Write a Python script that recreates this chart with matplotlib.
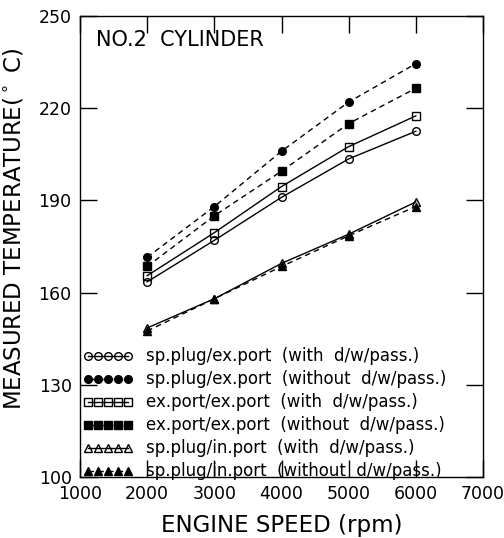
import matplotlib
matplotlib.use("Agg")
import matplotlib.pyplot as plt

speed = [2000, 3000, 4000, 5000, 6000]
sp_ex_with = [163.5, 177, 191, 203.5, 212.5]
sp_ex_without = [171.5, 188, 206, 222, 234.5]
ex_ex_with = [165.5, 179.5, 194.5, 207.5, 217.5]
ex_ex_without = [168.5, 185, 199.5, 215, 226.5]
sp_in_with = [148.5, 158, 169.5, 179, 189.5]
sp_in_without = [147.5, 158, 168.5, 178.5, 188]

labels = [
    "sp.plug/ex.port  (with  d/w/pass.)",
    "sp.plug/ex.port  (without  d/w/pass.)",
    "ex.port/ex.port  (with  d/w/pass.)",
    "ex.port/ex.port  (without  d/w/pass.)",
    "sp.plug/in.port  (with  d/w/pass.)",
    "sp.plug/in.port  (without  d/w/pass.)",
]
xticks = [1000, 2000, 3000, 4000, 5000, 6000, 7000]
yticks = [100, 130, 160, 190, 220, 250]

plt.rcParams['font.family'] = ['DejaVu Sans']
fig = plt.figure(figsize=(5.04, 5.38), dpi=100)
ax = fig.add_axes([80/504, 1-477/538, 403/504, 461/538])

series = [
    (sp_ex_with, 'o', 'none', '-'),
    (sp_ex_without, 'o', 'black', (0, (4, 3))),
    (ex_ex_with, 's', 'none', '-'),
    (ex_ex_without, 's', 'black', (0, (4, 3))),
    (sp_in_with, '^', 'none', '-'),
    (sp_in_without, '^', 'black', (0, (4, 3))),
]
for (vals, m, fc, ls), lab in zip(series, labels):
    ax.plot(speed, vals, color='black', linestyle=ls, linewidth=1.0,
            marker=m, markerfacecolor=fc, markeredgecolor='black',
            markersize=5.5, markeredgewidth=1.0, label=lab)

ax.set_xlim(1000, 7000)
ax.set_ylim(100, 250)
ax.set_xticks(xticks)
ax.set_yticks(yticks)
ax.tick_params(direction='in', length=12, width=1.0, top=True, right=True,
               labelsize=12.5, pad=6)
for s in ax.spines.values():
    s.set_linewidth(1.0)

ax.set_xlabel("ENGINE SPEED (rpm)", fontsize=16.5, labelpad=8)
ax.set_ylabel("MEASURED TEMPERATURE($^\\circ$ C)", fontsize=16.5)
ax.yaxis.set_label_coords(-0.135, 0.538)
ax.text(0.04, 0.97, "NO.2  CYLINDER", transform=ax.transAxes, fontsize=15,
        ha='left', va='top')

leg = ax.legend(loc='lower left', bbox_to_anchor=(0.0, -0.013), frameon=False,
                numpoints=5, handlelength=3.0, fontsize=12, borderaxespad=0.05,
                borderpad=0.1, labelspacing=0.3, handletextpad=0.8)

fig.savefig("out.png", dpi=100)
